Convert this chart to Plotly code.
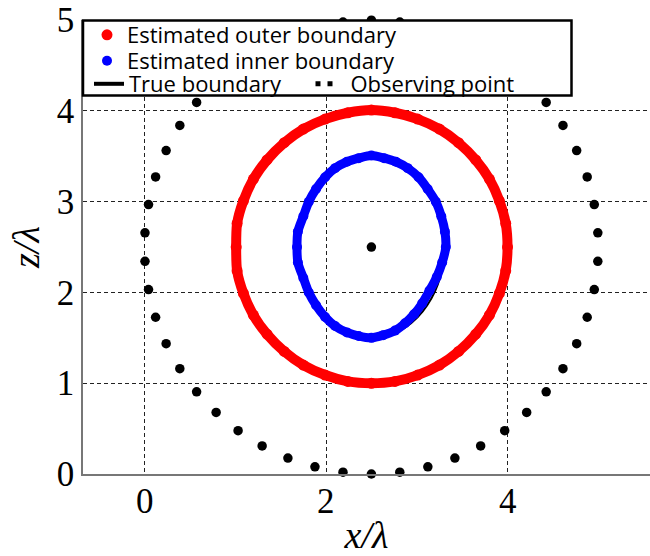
import plotly.graph_objects as go

# Estimated outer boundary (x/λ, z/λ)
outer_x = [4.00, 3.98, 3.91, 3.80, 3.65, 3.46, 3.25, 3.01, 2.76, 2.50, 2.24, 1.99,
           1.75, 1.54, 1.35, 1.20, 1.09, 1.02, 1.01, 1.02, 1.09, 1.20, 1.35, 1.54,
           1.75, 1.99, 2.24, 2.50, 2.76, 3.01, 3.25, 3.46, 3.65, 3.80, 3.91, 3.98]
outer_z = [2.50, 2.76, 3.01, 3.25, 3.46, 3.65, 3.80, 3.91, 3.98, 4.01, 3.98, 3.91,
           3.80, 3.65, 3.46, 3.25, 3.01, 2.76, 2.50, 2.24, 1.99, 1.75, 1.54, 1.35,
           1.20, 1.09, 1.02, 1.00, 1.02, 1.09, 1.20, 1.35, 1.54, 1.75, 1.99, 2.24]

# Estimated inner boundary
inner_x = [3.32, 3.31, 3.27, 3.21, 3.12, 3.02, 2.90, 2.77, 2.64, 2.50, 2.36, 2.23,
           2.10, 1.99, 1.89, 1.81, 1.75, 1.69, 1.68, 1.69, 1.75, 1.81, 1.89, 1.99,
           2.10, 2.23, 2.36, 2.50, 2.63, 2.76, 2.87, 2.97, 3.06, 3.14, 3.22, 3.28]
inner_z = [2.50, 2.67, 2.84, 3.00, 3.14, 3.27, 3.37, 3.44, 3.48, 3.51, 3.48, 3.44,
           3.37, 3.27, 3.14, 3.00, 2.84, 2.67, 2.50, 2.33, 2.16, 2.00, 1.86, 1.73,
           1.63, 1.56, 1.52, 1.50, 1.53, 1.58, 1.66, 1.76, 1.88, 2.02, 2.17, 2.33]

# True boundaries: (center x, center z, half-width, half-height)
true_outer = (2.5, 2.5, 1.5, 1.5)
true_inner = (2.5, 2.5, 0.8, 1.0)

# Observing points on the measurement ring, plus the centre point
obs_x = [4.995, 4.956, 4.878, 4.762, 4.611, 4.426, 4.211, 3.969, 3.704, 3.420,
         3.122, 2.813, 2.500, 2.187, 1.878, 1.580, 1.296, 1.031, 0.789, 0.574,
         0.389, 0.238, 0.122, 0.044, 0.005, 0.005, 0.044, 0.122, 0.238, 0.389,
         0.574, 0.789, 1.031, 1.296, 1.580, 1.878, 2.187, 2.500, 2.813, 3.122,
         3.420, 3.704, 3.969, 4.211, 4.426, 4.611, 4.762, 4.878, 4.956, 4.995,
         2.500]
obs_z = [2.657, 2.968, 3.273, 3.564, 3.840, 4.094, 4.322, 4.523, 4.691, 4.824,
         4.921, 4.980, 5.000, 4.980, 4.921, 4.824, 4.691, 4.523, 4.322, 4.094,
         3.840, 3.564, 3.273, 2.968, 2.657, 2.343, 2.032, 1.727, 1.436, 1.160,
         0.906, 0.678, 0.477, 0.309, 0.176, 0.079, 0.020, 0.000, 0.020, 0.079,
         0.176, 0.309, 0.477, 0.678, 0.906, 1.160, 1.436, 1.727, 2.032, 2.343,
         2.500]

x_ticks = [0, 2, 4]
z_ticks = [0, 1, 2, 3, 4, 5]

RED = "#ff0000"
BLUE = "#0000ff"
LEGEND_FONT = dict(family="Open Sans", size=22, color="black")
SERIF = "Liberation Serif"
TICK_FONT = dict(family=SERIF, size=35, color="black")
TITLE_FONT = dict(family=SERIF, size=38, color="black")

# plot area in pixels
L, R, T, B = 83, 0, 20, 82
W, H = 650, 556
PW, PH = W - L - R, H - T - B


def px(xp):
    return (xp - L) / PW


def py(yp):
    return (H - B - yp) / PH


def closed(v):
    return list(v) + [v[0]]


fig = go.Figure()

fig.add_trace(go.Scatter(
    x=obs_x, y=obs_z, mode="markers", showlegend=False, cliponaxis=False,
    marker=dict(size=9.5, color="black"),
))

for bx, bz, col, lw, ms, name, leg in [
    (outer_x, outer_z, RED, 10, 11, "Estimated outer boundary", "legend"),
    (inner_x, inner_z, BLUE, 9, 10, "Estimated inner boundary", "legend2"),
]:
    fig.add_trace(go.Scatter(
        x=closed(bx), y=closed(bz), mode="lines", showlegend=False,
        line=dict(color=col, width=lw, shape="spline", smoothing=0.8),
    ))
    fig.add_trace(go.Scatter(
        x=bx, y=bz, mode="markers", name=name, legend=leg,
        marker=dict(size=ms, color=col),
    ))

# legend entries for the true boundary and the observing points
fig.add_trace(go.Scatter(
    x=[None], y=[None], mode="lines", name="True boundary", legend="legend3",
    line=dict(color="black", width=4),
))
fig.add_trace(go.Scatter(
    x=[None], y=[None], mode="lines", name="Observing point", legend="legend4",
    line=dict(color="black", width=5, dash="5px,7px,5px,100px"),
))

shapes = []
for cx, cz, rx, rz in (true_outer, true_inner):
    shapes.append(dict(type="circle", xref="x", yref="y", layer="between",
                       x0=cx - rx, x1=cx + rx, y0=cz - rz, y1=cz + rz,
                       line=dict(color="black", width=2)))
# legend frame
shapes.append(dict(type="rect", xref="paper", yref="paper", layer="above",
                   x0=px(83), x1=px(571.5), y0=py(95.5), y1=py(20.5),
                   fillcolor="white", line=dict(color="black", width=2.5)))

# x tick labels, set close under the axis line
annotations = [dict(x=v, y=0, xref="x", yref="y", text=str(v), showarrow=False,
                    xanchor="center", yanchor="middle", yshift=-27,
                    font=TICK_FONT) for v in x_ticks]

legend_common = dict(bgcolor="rgba(0,0,0,0)", borderwidth=0, font=LEGEND_FONT,
                     xanchor="left", yanchor="middle", itemsizing="trace")

fig.update_layout(
    width=W, height=H,
    margin=dict(l=L, r=R, t=T, b=B, pad=0, autoexpand=False),
    paper_bgcolor="white", plot_bgcolor="white",
    shapes=shapes,
    annotations=annotations,
    legend=dict(x=px(87), y=py(35), **legend_common),
    legend2=dict(x=px(87), y=py(61), **legend_common),
    legend3=dict(x=px(89), y=py(84), **legend_common),
    legend4=dict(x=px(310.5), y=py(84), **legend_common),
    xaxis=dict(
        range=[-0.678, 5.57], tickvals=x_ticks, showticklabels=False,
        showgrid=True, gridcolor="#222222", gridwidth=1, griddash="4px,3px",
        zeroline=False, showline=True, linecolor="#777777", linewidth=1.5,
        ticks="", ticklen=0, automargin=False,
        title=dict(text="<i>x/λ</i>", font=TITLE_FONT, standoff=58),
    ),
    yaxis=dict(
        range=[0, 5.002], tickvals=z_ticks, ticktext=[str(v) for v in z_ticks],
        showgrid=True, gridcolor="#222222", gridwidth=1, griddash="4px,3px",
        zeroline=False, showline=True, linecolor="#777777", linewidth=1.5,
        ticks="", ticklen=0, ticklabelstandoff=0, automargin=False,
        tickfont=TICK_FONT,
        title=dict(text="<i>z/λ</i>", font=TITLE_FONT, standoff=5),
    ),
)

fig.write_html("out.html")
